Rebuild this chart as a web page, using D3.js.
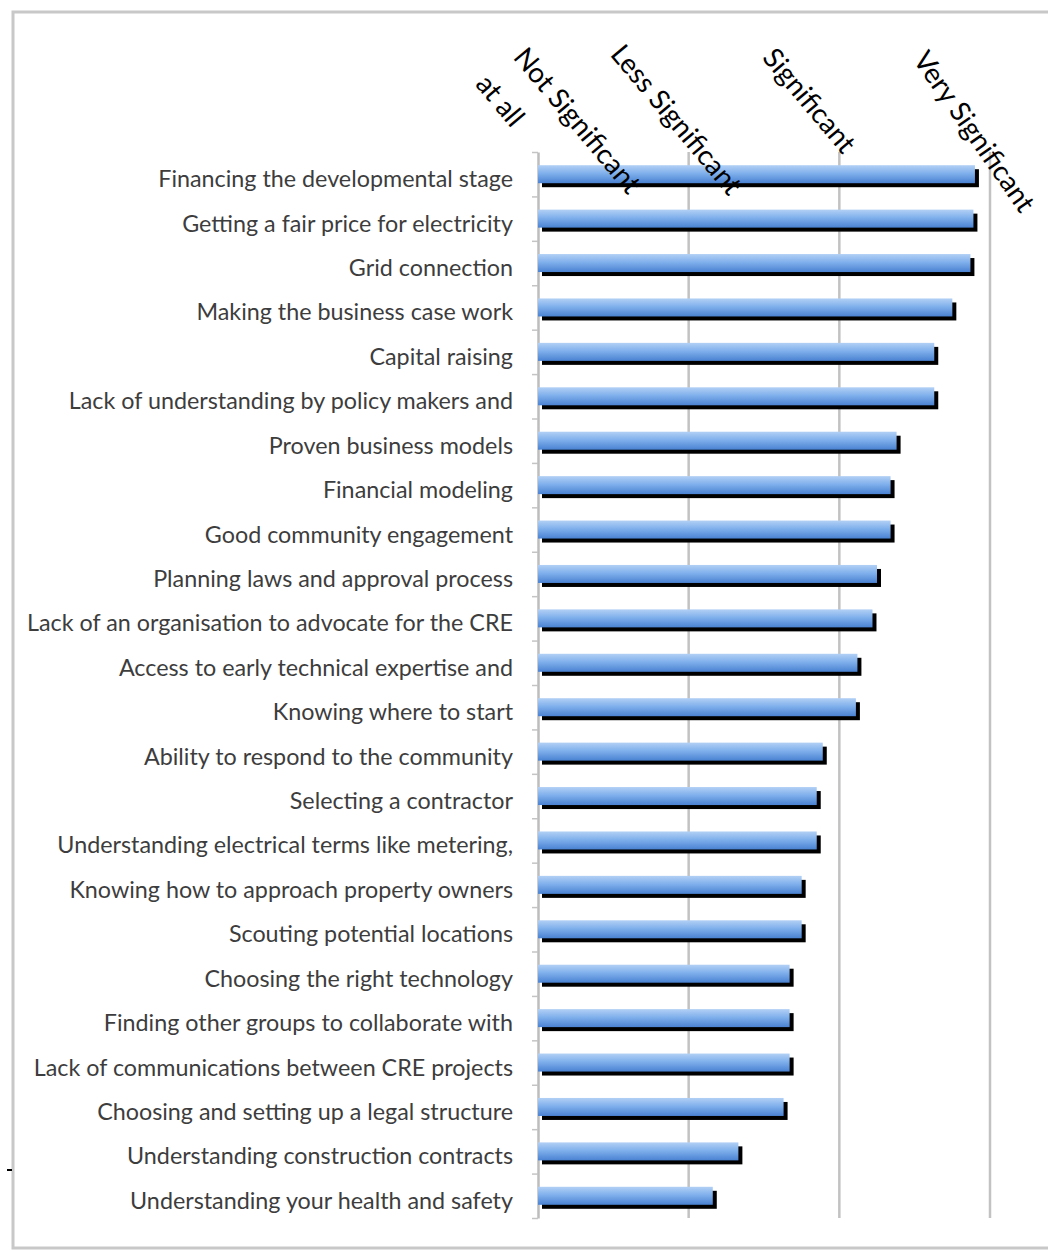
<!DOCTYPE html>
<html>
<head>
<meta charset="utf-8">
<script src="https://cdn.jsdelivr.net/npm/d3@7"></script>
<style>
  body { margin: 0; background: #fff; }
  svg { display: block; }
</style>
</head>
<body>
<svg id="chart" width="1048" height="1250"></svg>
<script>
// Survey items, ordered top to bottom
const categories = [
  "Financing the developmental stage",
  "Getting a fair price for electricity",
  "Grid connection ",
  "Making the business case work",
  "Capital raising ",
  "Lack of understanding by policy makers and",
  "Proven business models",
  "Financial modeling",
  "Good community engagement",
  "Planning laws and approval process",
  "Lack of an organisation to advocate for the CRE",
  "Access to early technical expertise and",
  "Knowing where to start",
  "Ability to respond to the community",
  "Selecting a contractor",
  "Understanding electrical terms like metering,",
  "Knowing how to approach property owners",
  "Scouting potential locations",
  "Choosing the right technology",
  "Finding other groups to collaborate with",
  "Lack of communications between CRE projects",
  "Choosing and setting up a legal structure",
  "Understanding construction contracts",
  "Understanding your health and safety"
];

// Mean significance rating (1 = not significant at all ... 4 = very significant)
const values = [
  3.90, 3.89, 3.87, 3.75, 3.63, 3.63, 3.38, 3.34, 3.34, 3.25, 3.22, 3.12,
  3.11, 2.89, 2.85, 2.85, 2.75, 2.75, 2.67, 2.67, 2.67, 2.63, 2.33, 2.16
];

// Rating scale
const scaleTicks = [1, 2, 3, 4];
const scaleLabels = ["Not Significant", "Less Significant", "Significant", "Very Significant"];
const scaleSubLabel = "at all";

const W = 1048, H = 1250;
const plot = { left: 538, right: 990, top: 152, bottom: 1218 };
const FONT = "Lato, 'Open Sans', sans-serif";

const svg = d3.select("#chart");

const x = d3.scaleLinear().domain([1, 4]).range([plot.left, plot.right]);
const y = d3.scaleBand().domain(categories).range([plot.top, plot.bottom]).padding(0);

// --- defs: bar gradient + soft shadow
const defs = svg.append("defs");
const grad = defs.append("linearGradient")
  .attr("id", "barFill").attr("x1", 0).attr("y1", 0).attr("x2", 0).attr("y2", 1);
grad.append("stop").attr("offset", "0%").attr("stop-color", "#b2d0f5");
grad.append("stop").attr("offset", "45%").attr("stop-color", "#80b0ec");
grad.append("stop").attr("offset", "100%").attr("stop-color", "#4a82d2");
defs.append("filter").attr("id", "soft")
  .attr("x", "-5%").attr("y", "-50%").attr("width", "110%").attr("height", "200%")
  .append("feGaussianBlur").attr("stdDeviation", 0.7);

// --- outer frame
svg.append("rect")
  .attr("x", 13).attr("y", 12)
  .attr("width", W).attr("height", 1236)
  .attr("fill", "#fff")
  .attr("stroke", "#c8c8c8").attr("stroke-width", 3);

// stray tick on the left frame
svg.append("line")
  .attr("x1", 7).attr("x2", 12).attr("y1", 1170).attr("y2", 1170)
  .attr("stroke", "#000").attr("stroke-width", 2);

// --- vertical gridlines
svg.append("g").selectAll("line")
  .data(scaleTicks.slice(1))
  .join("line")
  .attr("x1", d => x(d)).attr("x2", d => x(d))
  .attr("y1", plot.top).attr("y2", plot.bottom)
  .attr("stroke", "#c2c2c2").attr("stroke-width", 2.5);

// --- category axis with ticks on the band boundaries
const bandEdges = d3.scaleLinear().domain([0, categories.length]).range([plot.top, plot.bottom]);
const yAxis = svg.append("g")
  .attr("transform", `translate(${plot.left},0)`)
  .call(d3.axisLeft(bandEdges)
    .tickValues(d3.range(categories.length + 1))
    .tickSize(6).tickSizeOuter(0)
    .tickFormat(""));
yAxis.select(".domain").attr("stroke", "#bdbdbd").attr("stroke-width", 2.5);
yAxis.selectAll(".tick line").attr("stroke", "#c4c4c4").attr("stroke-width", 1.5);

// --- fit a font size so a reference string spans a given width
function fitSize(str, target, weight) {
  const t = svg.append("text").attr("font-family", FONT).attr("font-size", 100)
    .attr("font-weight", weight || 400).text(str);
  const w = t.node().getComputedTextLength();
  t.remove();
  return 100 * target / w;
}

const catSize = fitSize("Financing the developmental stage", 355);
const headSize = fitSize("Not Significant", 180);

// --- category labels
svg.append("g").selectAll("text")
  .data(categories)
  .join("text")
  .attr("x", 513)
  .attr("y", d => y(d) + y.bandwidth() / 2 + 4)
  .attr("text-anchor", "end")
  .attr("dominant-baseline", "central")
  .attr("font-family", FONT)
  .attr("font-size", catSize)
  .attr("fill", "#3d3d3d")
  .text(d => d);

// --- bars: dark drop shadow beneath a gradient bar
const barH = 18, shadowOff = 4;
const bars = svg.append("g").selectAll("g")
  .data(categories.map((c, i) => ({ c, v: values[i] })))
  .join("g");

bars.append("rect")
  .attr("x", x(1) + shadowOff)
  .attr("y", d => y(d.c) + y.bandwidth() / 2 - barH / 2 + shadowOff)
  .attr("width", d => x(d.v) - x(1))
  .attr("height", barH)
  .attr("fill", "#050505")
  .attr("filter", "url(#soft)");

bars.append("rect")
  .attr("x", x(1))
  .attr("y", d => y(d.c) + y.bandwidth() / 2 - barH / 2)
  .attr("width", d => x(d.v) - x(1))
  .attr("height", barH)
  .attr("fill", "url(#barFill)");

// --- rotated rating-scale labels above the plot
const headPlacement = [
  { cx: 578, cy: 120, a: 50 },
  { cx: 677, cy: 119, a: 50 },
  { cx: 810, cy: 100, a: 50 },
  { cx: 975, cy: 131, a: 55 }
];
const head = svg.append("g");
head.selectAll("text.scale")
  .data(scaleLabels)
  .join("text")
  .attr("class", "scale")
  .attr("transform", (d, i) => `translate(${headPlacement[i].cx},${headPlacement[i].cy}) rotate(${headPlacement[i].a})`)
  .attr("text-anchor", "middle")
  .attr("dominant-baseline", "central")
  .attr("font-family", FONT)
  .attr("font-size", headSize)
  .attr("fill", "#000")
  .text(d => d);

head.append("text")
  .attr("transform", "translate(501,100) rotate(50)")
  .attr("text-anchor", "middle")
  .attr("dominant-baseline", "central")
  .attr("font-family", FONT)
  .attr("font-size", headSize)
  .attr("fill", "#000")
  .text(scaleSubLabel);
</script>
</body>
</html>
